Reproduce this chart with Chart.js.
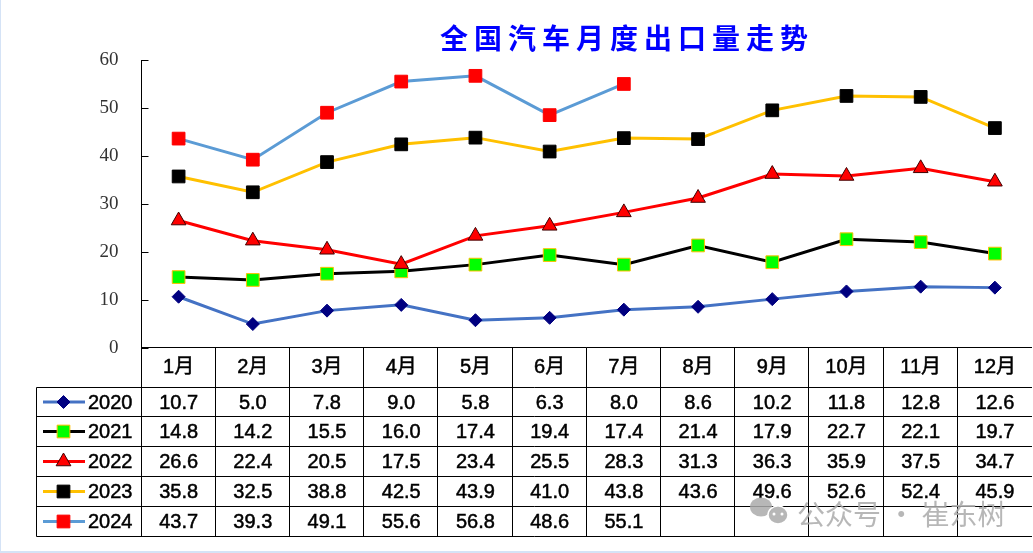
<!DOCTYPE html>
<html>
<head>
<meta charset="utf-8">
<style>
  html, body { margin: 0; padding: 0; background: #d5e3f6; overflow: hidden; }
  #plate { position: absolute; left: 1px; top: 0; width: 1032px; height: 551px; background: #fff; }
  #myChart { position: absolute; left: 0; top: 0; }
</style>
</head>
<body>
<div id="plate"></div>
<canvas id="myChart" width="1033" height="553"></canvas>
<script src="https://cdn.jsdelivr.net/npm/chart.js@4"></script>
<script>
const titleText = '全国汽车月度出口量走势'
const watermarkText = '公众号 · 崔东树'
const months = ['1月', '2月', '3月', '4月', '5月', '6月', '7月', '8月', '9月', '10月', '11月', '12月']
const yTicks = [0, 10, 20, 30, 40, 50, 60]

const values2020 = [10.7, 5.0, 7.8, 9.0, 5.8, 6.3, 8.0, 8.6, 10.2, 11.8, 12.8, 12.6]
const values2021 = [14.8, 14.2, 15.5, 16.0, 17.4, 19.4, 17.4, 21.4, 17.9, 22.7, 22.1, 19.7]
const values2022 = [26.6, 22.4, 20.5, 17.5, 23.4, 25.5, 28.3, 31.3, 36.3, 35.9, 37.5, 34.7]
const values2023 = [35.8, 32.5, 38.8, 42.5, 43.9, 41.0, 43.8, 43.6, 49.6, 52.6, 52.4, 45.9]
const values2024 = [43.7, 39.3, 49.1, 55.6, 56.8, 48.6, 55.1, null, null, null, null, null]

const makeSeries = (label, data, line, style, radius, fill, edge, order) => ({
  label: label,
  data: data,
  borderColor: line,
  backgroundColor: line,
  borderWidth: 3,
  pointStyle: style,
  pointRadius: radius,
  pointBackgroundColor: fill,
  pointBorderColor: edge,
  pointBorderWidth: 1,
  order: order,
  tension: 0,
  spanGaps: false
})

const tableFont = '20px "Liberation Sans", sans-serif'

// data table under the plot, columns follow the x scale
const dataTable = {
  id: 'dataTable',
  afterDraw: function(chart) {
    const ctx = chart.ctx
    const x = chart.scales.x
    const half = (x.getPixelForTick(1) - x.getPixelForTick(0)) / 2
    const rows = [387.5, 416.5, 446.5, 476.5, 506.5, 536.5]
    const top = 347.5
    const left = 36.5
    const axisX = 141.5

    ctx.save()
    ctx.strokeStyle = '#000'
    ctx.lineWidth = 1
    ctx.beginPath()
    ctx.moveTo(axisX, top)
    ctx.lineTo(1032, top)
    rows.forEach((y) => {
      ctx.moveTo(left, y)
      ctx.lineTo(1032, y)
    })
    ctx.moveTo(left, rows[0])
    ctx.lineTo(left, rows[5])
    ctx.moveTo(axisX, top)
    ctx.lineTo(axisX, rows[5])
    months.forEach((m, i) => {
      if (i === months.length - 1) return
      const edge = Math.round(x.getPixelForTick(i) + half) - 0.5
      ctx.moveTo(edge, top)
      ctx.lineTo(edge, rows[5])
    })
    ctx.stroke()

    ctx.font = tableFont
    ctx.textBaseline = 'middle'
    const label = (text, px, py) => {
      ctx.lineWidth = 0.5
      ctx.strokeStyle = '#000'
      ctx.fillStyle = '#000'
      ctx.fillText(text, px, py)
      ctx.strokeText(text, px, py)
    }
    chart.data.datasets.forEach((ds, r) => {
      const mid = (rows[r] + rows[r + 1]) / 2 + 1
      // legend key
      ctx.strokeStyle = ds.borderColor
      ctx.lineWidth = 3
      ctx.beginPath()
      ctx.moveTo(43, mid - 1)
      ctx.lineTo(85, mid - 1)
      ctx.stroke()
      ctx.fillStyle = ds.pointBackgroundColor
      ctx.strokeStyle = ds.pointBorderColor
      ctx.lineWidth = 1
      Chart.helpers.drawPoint(ctx, { pointStyle: ds.pointStyle, radius: ds.pointRadius, borderWidth: 1, rotation: 0 }, 63.5, mid - 1)
      ctx.textAlign = 'left'
      label(ds.label, 88, mid)
      ctx.textAlign = 'center'
      ds.data.forEach((v, i) => {
        if (v !== null) label(v.toFixed(1), x.getPixelForTick(i), mid)
      })
    })
    ctx.restore()
  }
}

const headline = {
  id: 'headline',
  afterDraw: function(chart) {
    const ctx = chart.ctx
    ctx.save()
    ctx.font = 'bold 28px "Noto Sans CJK SC", sans-serif'
    ctx.fillStyle = '#0000ff'
    ctx.textAlign = 'left'
    ctx.textBaseline = 'middle'
    ctx.letterSpacing = '6px'
    ctx.fillText(titleText, 440, 38)
    ctx.restore()
  }
}

const watermark = {
  id: 'watermark',
  afterDraw: function(chart) {
    const ctx = chart.ctx
    ctx.save()
    ctx.fillStyle = 'rgba(170,170,170,0.85)'
    ctx.beginPath()
    ctx.ellipse(761, 507, 11, 9.5, 0, 0, Math.PI * 2)
    ctx.fill()
    ctx.strokeStyle = '#fff'
    ctx.lineWidth = 1.5
    ctx.beginPath()
    ctx.ellipse(778, 515, 10, 9, 0, 0, Math.PI * 2)
    ctx.fill()
    ctx.stroke()
    ctx.fillStyle = '#fff'
    ctx.beginPath()
    ctx.arc(774, 514, 1.5, 0, Math.PI * 2)
    ctx.arc(782, 514, 1.5, 0, Math.PI * 2)
    ctx.fill()
    ctx.font = '28px "Noto Sans CJK SC", sans-serif'
    ctx.fillStyle = 'rgba(170,170,170,0.85)'
    ctx.textAlign = 'left'
    ctx.textBaseline = 'middle'
    ctx.fillText(watermarkText, 797, 514)
    ctx.restore()
  }
}

const ctx = document.getElementById('myChart')
const myChart = new Chart(ctx, {
  type: 'line',
  data: {
    labels: months,
    datasets: [
      makeSeries('2020', values2020, '#4472c4', 'rectRot', 6.5, '#000080', '#000080', 5),
      makeSeries('2021', values2021, '#000000', 'rect', 9, '#00ff00', '#ffc000', 4),
      makeSeries('2022', values2022, '#ff0000', 'triangle', 8.5, '#ff0000', '#400000', 3),
      makeSeries('2023', values2023, '#ffc000', 'rect', 9, '#000000', '#000000', 2),
      makeSeries('2024', values2024, '#5b9bd5', 'rect', 9, '#ff0000', '#ff0000', 1)
    ]
  },
  options: {
    responsive: false,
    animation: false,
    devicePixelRatio: 1,
    // autoPadding off, otherwise big point radius shrinks the plot on the right
    layout: { autoPadding: false, padding: { left: 0, right: 1, top: 60.5, bottom: 165 } },
    plugins: {
      legend: { display: false },
      title: { display: false },
      tooltip: { enabled: false }
    },
    scales: {
      x: {
        offset: true,
        afterFit: (scale) => { scale.height = 40 },
        grid: { display: false, drawTicks: true, tickLength: 7 },
        border: { display: false },
        ticks: {
          color: '#000',
          padding: 0,
          maxRotation: 0,
          autoSkip: false,
          textStrokeColor: '#000',
          textStrokeWidth: 0.5,
          font: { family: '"Liberation Sans", "Noto Sans CJK SC", sans-serif', size: 20 }
        }
      },
      y: {
        min: 0,
        max: 60,
        afterFit: (scale) => { scale.width = 141.5 },
        afterBuildTicks: (scale) => { scale.ticks = yTicks.map(v => ({ value: v })) },
        grid: { drawOnChartArea: false, tickLength: -7, color: '#000' },
        border: { color: '#000', width: 1 },
        ticks: {
          color: '#333',
          padding: 30,
          font: { family: '"Liberation Serif", serif', size: 19 }
        }
      }
    }
  },
  plugins: [dataTable, headline, watermark]
})
</script>
</body>
</html>
